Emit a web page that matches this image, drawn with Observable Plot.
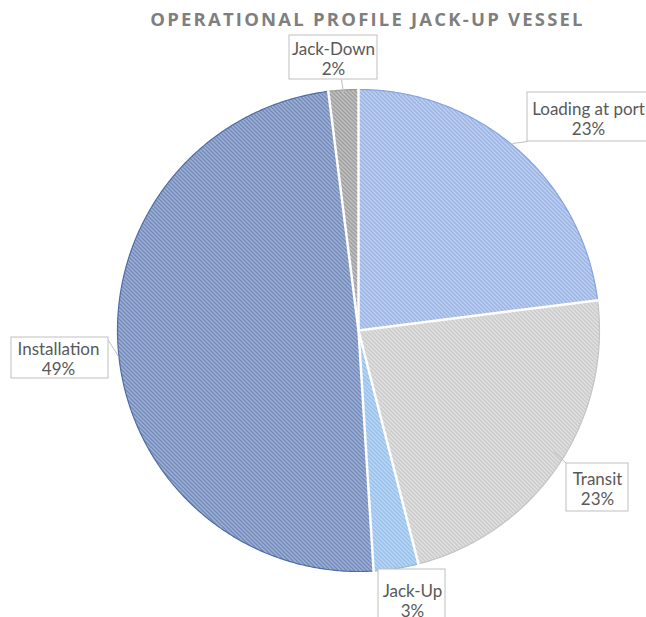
<!DOCTYPE html>
<html>
<head>
<meta charset="utf-8">
<script src="https://cdn.jsdelivr.net/npm/d3@7"></script>
<script src="https://cdn.jsdelivr.net/npm/@observablehq/plot@0.6"></script>
<style>
  html, body { margin: 0; padding: 0; background: #fff; }
  #chart { width: 646px; height: 617px; overflow: hidden; }
</style>
</head>
<body>
<div id="chart"></div>
<script>
// ---- data ----
const categories = ["Loading at port", "Transit", "Jack-Up", "Installation", "Jack-Down"];
const shares = [23, 23, 3, 49, 2];
const pctLabels = ["23%", "23%", "3%", "49%", "2%"];
const title = "OPERATIONAL PROFILE JACK-UP VESSEL";

// ---- styles ----
const patternBg   = ["#d2def4", "#ededed", "#cde2f7", "#b6c6e4", "#d6d6d6"];
const patternLine = ["#86a4e0", "#bebebe", "#83b4e8", "#5a74aa", "#8a8a8a"];
const outline     = ["#86a3df", "#c4c4c4", "#8cbaea", "#4f6ca8", "#9a9a9a"];

// ---- layout ----
const W = 646, H = 617;
const cx = 358, cy = 330, R = 241;
const labelLayout = [
  {box: [527, 92, 648, 141], tx: 588, ty: 118, lead: [[527, 141], [512, 143]]},
  {box: [566, 463, 628, 511], tx: 597, ty: 488, lead: [[566, 463], [553, 451]]},
  {box: [378, 569, 445, 630], tx: 412, ty: 600, lead: [[392, 569], [398, 564]]},
  {box: [11, 337, 108, 378], tx: 58, ty: 358, lead: [[108, 340], [118, 356]]},
  {box: [289, 35, 377, 79], tx: 333, ty: 58, lead: [[341, 79], [343, 92]]}
];

const arcs = d3.pie().sort(null).value(d => d)(shares);
const pt = (a, r) => ({x: cx + r * Math.sin(a), y: cy - r * Math.cos(a)});

const slicePts = arcs.map((a, i) => {
  const pts = [{x: cx, y: cy}];
  const n = Math.max(4, Math.ceil((a.endAngle - a.startAngle) * 120));
  for (let k = 0; k <= n; k++) {
    pts.push(pt(a.startAngle + (a.endAngle - a.startAngle) * k / n, R));
  }
  pts.push({x: cx, y: cy});
  return pts;
});

const boundaries = arcs.map(a => {
  const p = pt(a.startAngle, R + 1);
  return {x1: cx, y1: cy, x2: p.x, y2: p.y};
});

const defs = () => {
  const d = d3.create("svg:defs");
  patternBg.forEach((bg, i) => {
    const p = d.append("pattern")
      .attr("id", "pat" + i)
      .attr("patternUnits", "userSpaceOnUse")
      .attr("width", 4).attr("height", 4);
    p.append("rect").attr("width", 4).attr("height", 4).attr("fill", bg);
    p.append("path")
      .attr("d", "M-1,-1L5,5M-1,3L1,5M3,-1L5,1")
      .attr("stroke", patternLine[i])
      .attr("stroke-width", 1.4);
  });
  return d.node();
};

const marks = [defs];
slicePts.forEach((pts, i) => {
  marks.push(Plot.line(pts, {x: "x", y: "y", fill: `url(#pat${i})`, stroke: outline[i], strokeWidth: 1.2, curve: "linear"}));
});
marks.push(Plot.link(boundaries, {x1: "x1", y1: "y1", x2: "x2", y2: "y2", stroke: "white", strokeWidth: 2.5}));

const leads = labelLayout.map(l => ({x1: l.lead[0][0], y1: l.lead[0][1], x2: l.lead[1][0], y2: l.lead[1][1]}));
marks.push(Plot.link(leads, {x1: "x1", y1: "y1", x2: "x2", y2: "y2", stroke: "#bfbfbf", strokeWidth: 1}));

const boxes = labelLayout.map(l => ({x1: l.box[0], y1: l.box[1], x2: l.box[2], y2: l.box[3]}));
marks.push(Plot.rect(boxes, {x1: "x1", y1: "y1", x2: "x2", y2: "y2", fill: "white", stroke: "#bfbfbf", strokeWidth: 1}));

const labels = categories.map((c, i) => ({text: c + "\n" + pctLabels[i], x: labelLayout[i].tx, y: labelLayout[i].ty}));
marks.push(Plot.text(labels, {x: "x", y: "y", text: "text", fill: "#595959", fontSize: 17, lineHeight: 1.21, fontFamily: "Lato"}));

marks.push(Plot.text([title], {x: [367], y: [20], text: d => d, fill: "#7f7f7f", fontSize: 18.5, fontWeight: "bold", fontFamily: "Open Sans"}));

const chart = Plot.plot({
  width: W, height: H,
  margin: 0,
  x: {domain: [0, W], range: [0, W], axis: null},
  y: {domain: [0, H], range: [0, H], axis: null},
  style: {background: "white", overflow: "hidden"},
  marks
});
d3.select(chart).selectAll("text").filter(function() { return this.textContent === title; })
  .style("letter-spacing", "2.2px");
document.getElementById("chart").append(chart);
</script>
</body>
</html>
